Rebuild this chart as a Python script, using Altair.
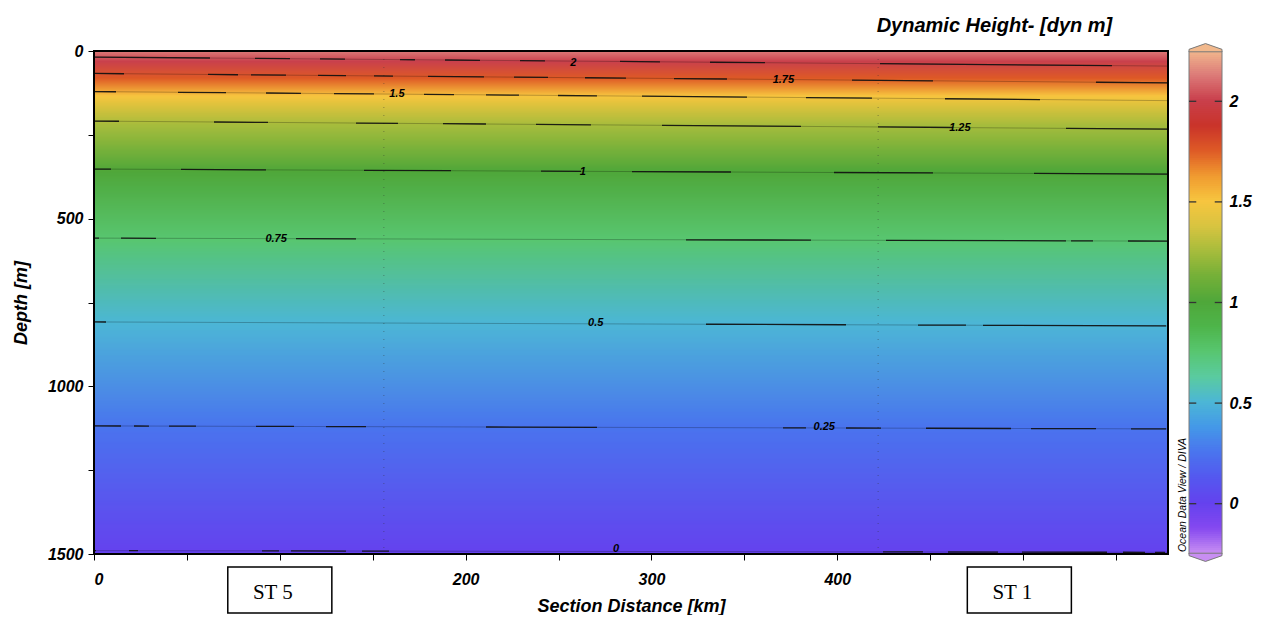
import altair as alt
import pandas as pd

# ---------------- values ----------------
levels = [2.0, 1.75, 1.5, 1.25, 1.0, 0.75, 0.5, 0.25, 0.0]
level_labels = ["2", "1.75", "1.5", "1.25", "1", "0.75", "0.5", "0.25", "0"]
depth_west = [18, 67, 121, 209, 352, 558, 808, 1118, 1490]   # contour depth at 0 km
depth_east = [45, 95, 148, 233, 367, 567, 820, 1127, 1495]   # contour depth at 578 km
label_km = [258, 371, 163, 466, 263, 98, 270, 393, 281]
label_depth = [36, 86, 129, 230, 361, 561, 811, 1121, 1485]
surface_value = 2.125
section_km = [0, 578]
max_depth = 1500
station_names = ["ST 5", "ST 1"]
station_km = [100, 498]
grid_km = [156, 422]
colorbar_ticks = [0, 0.5, 1, 1.5, 2]
colorbar_range = [-0.25, 2.25]

# colour palette of the colour bar (value -> colour)
pal_values = [-0.25, -0.125, 0.0, 0.125, 0.25, 0.375, 0.5, 0.625, 0.75, 0.875,
              1.0, 1.125, 1.25, 1.375, 1.5, 1.625, 1.75, 1.875, 2.0, 2.125, 2.25]
pal_colors = ["#c88ef2", "#8448f0", "#6442ee", "#5458ef", "#4a74ee", "#4498e8",
              "#4cb6d6", "#5acba0", "#58c670", "#4eb54a", "#4fa73a", "#74b038",
              "#a6bc3c", "#d8c440", "#f7c53f", "#f09a30", "#de5a26", "#c9332a",
              "#c9404c", "#dc7a78", "#f2b98d"]
pal = dict(zip(pal_values, pal_colors))

# line style of the broken ODV contour lines (dash, gap, ... in px)
dashes = [
    [116, 45, 35, 30, 25, 55, 15, 30, 35, 40, 25, 75, 40, 50, 55, 115, 232, 56],
    [30, 84, 30, 13, 35, 32, 28, 28, 19, 35, 56, 30, 34, 37, 41, 48, 53, 125, 81, 163, 73],
    [22, 62, 48, 40, 35, 33, 40, 50, 30, 32, 33, 39, 39, 45, 105, 59, 66, 73, 95, 130],
    [25, 95, 54, 88, 42, 45, 43, 50, 55, 71, 139, 77, 75, 113, 113],
    [17, 70, 85, 98, 87, 90, 40, 51, 99, 103, 99, 101, 135],
    [5, 22, 35, 140, 60, 330, 125, 75, 180],
    [12, 600, 140, 72, 48, 17, 183],
    [27, 13, 15, 20, 27, 60, 38, 32, 40, 120, 111, 186, 23, 40, 35, 45, 85, 20, 65, 35, 35],
    [2, 33, 9, 124, 17, 12, 55, 16, 27, 494, 40, 25, 50, 24, 85, 16, 22, 10, 10],
]

# ---------------- derived tables ----------------
field_depths = [0] + [(w + e) / 2 for w, e in zip(depth_west, depth_east)] + [max_depth]
field_colors = [pal[surface_value]] + [pal[v] for v in levels] + [pal[0.0]]

contour_rows = []
for lab, w, e in zip(level_labels, depth_west, depth_east):
    contour_rows.append({"lv": lab, "km": section_km[0], "depth": w})
    contour_rows.append({"lv": lab, "km": section_km[1], "depth": e})
contours = pd.DataFrame(contour_rows)
labels_df = pd.DataFrame({"lv": level_labels, "km": label_km, "depth": label_depth})
stations = pd.DataFrame({"name": station_names, "km": station_km})
grid_df = pd.DataFrame({"km": grid_km})
frame_df = pd.DataFrame({"a": [section_km[0]], "b": [section_km[1]], "c": [0], "d": [max_depth]})

W, H = 1074, 503
FONT = "Liberation Sans"

xs = alt.Scale(domain=section_km, nice=False, zero=False)
ys = alt.Scale(domain=[0, max_depth], reverse=True, nice=False)

x_axis = alt.Axis(values=list(range(0, 551, 50)), format="d",
                  labelExpr="(datum.value % 100 == 0 && datum.value != 100 && datum.value != 500) ? datum.label : ''",
                  tickSize=6, labelPadding=11, titlePadding=10, title="Section Distance [km]")
y_axis = alt.Axis(values=list(range(0, 1501, 250)), format="d",
                  labelExpr="datum.value % 500 == 0 ? datum.label : ''",
                  tickSize=6, labelPadding=5, titlePadding=17, title="Depth [m]")

field = alt.Chart(alt.sequence(0, max_depth, 3, as_="d0")).transform_calculate(
    d1="datum.d0 + 9", dm="datum.d0 + 1.5",
    xa=f"{section_km[0]}", xb=f"{section_km[1]}"
).mark_rect(clip=True, strokeWidth=0).encode(
    x=alt.X("xa:Q", scale=xs, axis=x_axis),
    x2="xb:Q",
    y=alt.Y("d0:Q", scale=ys, axis=y_axis),
    y2="d1:Q",
    color=alt.Color("dm:Q", scale=alt.Scale(type="linear", domain=field_depths,
                                             range=field_colors, interpolate="rgb"),
                    legend=None),
)

grid = alt.Chart(grid_df).mark_rule(color="#333333", strokeDash=[1, 7], opacity=0.45,
                                    strokeWidth=1).encode(x=alt.X("km:Q", scale=xs))

faint = alt.Chart(contours).mark_line(color="black", strokeWidth=0.7, opacity=0.35).encode(
    x=alt.X("km:Q", scale=xs), y=alt.Y("depth:Q", scale=ys), detail="lv:N")

dashed = alt.Chart(contours).mark_line(color="#111111", strokeWidth=1.3, opacity=0.9).encode(
    x=alt.X("km:Q", scale=xs), y=alt.Y("depth:Q", scale=ys), detail="lv:N",
    strokeDash=alt.StrokeDash("lv:N", scale=alt.Scale(domain=level_labels, range=dashes),
                              legend=None))

clabels = alt.Chart(labels_df).mark_text(font=FONT, fontSize=11, fontWeight="bold",
                                         fontStyle="italic", color="black").encode(
    x=alt.X("km:Q", scale=xs), y=alt.Y("depth:Q", scale=ys), text="lv:N")

frame = alt.Chart(frame_df).mark_rect(fillOpacity=0, stroke="black", strokeWidth=2).encode(
    x=alt.X("a:Q", scale=xs), x2="b:Q", y=alt.Y("c:Q", scale=ys), y2="d:Q")

boxes = alt.Chart(stations).transform_calculate(
    k0="datum.km - 28", k1="datum.km + 28"
).mark_rect(fill="white", stroke="black", strokeWidth=1.5, clip=False).encode(
    x=alt.X("k0:Q", scale=xs), x2="k1:Q", y=alt.value(516), y2=alt.value(562))

box_text = alt.Chart(stations).mark_text(font="Liberation Serif", fontSize=21, dx=-7,
                                         baseline="middle", color="black").encode(
    x=alt.X("km:Q", scale=xs), y=alt.value(542), text="name:N")

odv = alt.Chart(pd.DataFrame({"t": ["Ocean Data View / DIVA"]})).mark_text(
    angle=270, fontSize=10.5, font=FONT, fontStyle="italic", color="black",
    baseline="middle").encode(
    x=alt.value(W + 15), y=alt.value(444), text="t:N")

main = alt.layer(field, grid, faint, dashed, clabels, frame, boxes, box_text, odv).properties(
    width=W, height=H)

# ---------------- colour bar ----------------
cbx = alt.Scale(domain=[0, 1], nice=False, zero=False)
cby = alt.Scale(domain=colorbar_range, nice=False, zero=False)

ramp = alt.Chart(alt.sequence(colorbar_range[0], colorbar_range[1], 0.01, as_="v")).transform_calculate(
    v2="min(datum.v + 0.03, 2.25)", xa="0", xb="1"
).mark_rect(strokeWidth=0).encode(
    x=alt.X("xa:Q", scale=cbx, axis=None), x2="xb:Q",
    y=alt.Y("v:Q", scale=cby, axis=alt.Axis(orient="right", values=colorbar_ticks, format="~g",
                                             ticks=False, domain=False, labelPadding=7,
                                             title=None)),
    y2="v2:Q",
    color=alt.Color("v:Q", scale=alt.Scale(type="linear", domain=pal_values, range=pal_colors,
                                            interpolate="rgb"), legend=None),
)

tick_rows = []
for t in colorbar_ticks:
    tick_rows.append({"v": t, "a": 0.0, "b": 0.22})
    tick_rows.append({"v": t, "a": 0.78, "b": 1.0})
cb_ticks = alt.Chart(pd.DataFrame(tick_rows)).mark_rule(color="#333333", strokeWidth=1.3).encode(
    x=alt.X("a:Q", scale=cbx, axis=None), x2="b:Q", y=alt.Y("v:Q", scale=cby))

outline = alt.Chart(pd.DataFrame({"a": [0], "b": [1], "c": [colorbar_range[0]], "d": [colorbar_range[1]]})
                    ).mark_rect(fillOpacity=0, stroke="#7a7a7a", strokeWidth=1).encode(
    x=alt.X("a:Q", scale=cbx, axis=None), x2="b:Q", y=alt.Y("c:Q", scale=cby), y2="d:Q")

tip_top = alt.Chart(pd.DataFrame({"x": [0.5], "v": [colorbar_range[1]]})).mark_point(
    shape="M -1 0.05 L -1 -0.1 L 0 -0.45 L 1 -0.1 L 1 0.05 Z", size=1089, filled=True,
    fill=pal_colors[-1], stroke="#7a7a7a", strokeWidth=1, opacity=1).encode(
    x=alt.X("x:Q", scale=cbx, axis=None), y=alt.Y("v:Q", scale=cby))

tip_bot = alt.Chart(pd.DataFrame({"x": [0.5], "v": [colorbar_range[0]]})).mark_point(
    shape="M -1 -0.05 L -1 0.1 L 0 0.45 L 1 0.1 L 1 -0.05 Z", size=1089, filled=True,
    fill=pal_colors[0], stroke="#7a7a7a", strokeWidth=1, opacity=1).encode(
    x=alt.X("x:Q", scale=cbx, axis=None), y=alt.Y("v:Q", scale=cby))

colorbar = alt.layer(ramp, outline, tip_top, tip_bot, cb_ticks).properties(width=33, height=H)

chart = alt.hconcat(main, colorbar, spacing=21, bounds="flush").resolve_scale(
    color="independent", x="independent", y="independent", strokeDash="independent"
).properties(
    title=alt.TitleParams("Dynamic Height- [dyn m]", anchor="end", font=FONT, fontSize=20,
                          fontWeight="bold", fontStyle="italic", color="black", dx=-139, offset=6),
    padding={"left": 12, "top": 15, "right": 5, "bottom": 0},
).configure_view(stroke=None).configure_axis(
    labelFont=FONT, labelFontSize=16, labelFontWeight="bold", labelFontStyle="italic",
    labelColor="black", titleFont=FONT, titleFontSize=18, titleFontWeight="bold",
    titleFontStyle="italic", titleColor="black", tickColor="black", domain=False, grid=False,
)

chart.save("out.html", embed_options={"renderer": "svg", "actions": False})
